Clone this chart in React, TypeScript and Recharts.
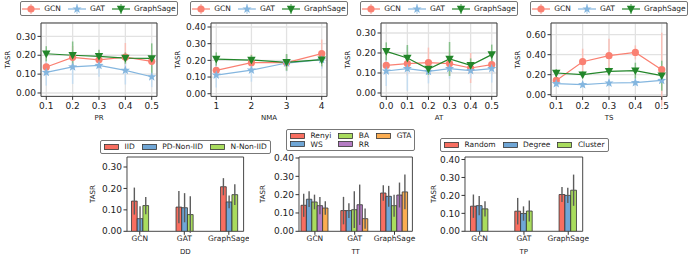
import React from 'react';
import { LineChart, Line, BarChart, Bar, XAxis, YAxis, CartesianGrid, ErrorBar } from 'recharts';

const FONT = '"DejaVu Sans", sans-serif';
const INK = '#222';
const SPINE = '#333';

// ---- line panels (top row) ----
const prX = [0.1, 0.2, 0.3, 0.4, 0.5];
const prGcn = [0.138, 0.189, 0.176, 0.19, 0.168];
const prGcnErr = [0.05, 0.06, 0.05, 0.075, 0.06];
const prGat = [0.109, 0.138, 0.146, 0.12, 0.086];
const prGatErr = [0.07, 0.09, 0.06, 0.075, 0.055];
const prSage = [0.208, 0.2, 0.194, 0.185, 0.183];
const prSageErr = [0.04, 0.073, 0.035, 0.03, 0.08];

const nmaX = [1, 2, 3, 4];
const nmaGcn = [0.14, 0.186, 0.186, 0.24];
const nmaGcnErr = [0.04, 0.05, 0.05, 0.085];
const nmaGat = [0.112, 0.142, 0.184, 0.204];
const nmaGatErr = [0.075, 0.07, 0.05, 0.055];
const nmaSage = [0.208, 0.202, 0.188, 0.204];
const nmaSageErr = [0.04, 0.03, 0.05, 0.04];

const atX = [0, 0.1, 0.2, 0.3, 0.4, 0.5];
const atGcn = [0.138, 0.147, 0.152, 0.147, 0.125, 0.142];
const atGcnErr = [0.05, 0.06, 0.075, 0.06, 0.075, 0.05];
const atGat = [0.11, 0.122, 0.108, 0.122, 0.112, 0.122];
const atGatErr = [0.075, 0.11, 0.06, 0.05, 0.04, 0.07];
const atSage = [0.208, 0.175, 0.12, 0.17, 0.138, 0.192];
const atSageErr = [0.045, 0.065, 0.03, 0.085, 0.035, 0.05];

const tsX = [0.1, 0.2, 0.3, 0.4, 0.5];
const tsGcn = [0.143, 0.33, 0.39, 0.423, 0.25];
const tsGcnErr = [0.04, 0.13, 0.17, 0.07, 0.37];
const tsGat = [0.11, 0.1, 0.117, 0.12, 0.143];
const tsGatErr = [0.03, 0.03, 0.035, 0.035, 0.04];
const tsSage = [0.217, 0.2, 0.233, 0.24, 0.19];
const tsSageErr = [0.04, 0.035, 0.04, 0.08, 0.15];

// ---- bar panels (bottom row) ----
const models = ['GCN', 'GAT', 'GraphSage'];

const ddIid = [0.141, 0.113, 0.208];
const ddIidErr = [0.063, 0.075, 0.04];
const ddPd = [0.059, 0.11, 0.137];
const ddPdErr = [0.058, 0.068, 0.03];
const ddNn = [0.12, 0.078, 0.171];
const ddNnErr = [0.04, 0.085, 0.048];

const ttRenyi = [0.142, 0.113, 0.209];
const ttRenyiErr = [0.063, 0.075, 0.042];
const ttWs = [0.175, 0.113, 0.191];
const ttWsErr = [0.043, 0.04, 0.057];
const ttBa = [0.16, 0.118, 0.14];
const ttBaErr = [0.04, 0.1, 0.06];
const ttRr = [0.14, 0.145, 0.198];
const ttRrErr = [0.047, 0.11, 0.068];
const ttGta = [0.127, 0.069, 0.215];
const ttGtaErr = [0.037, 0.055, 0.095];

const tpRandom = [0.14, 0.112, 0.205];
const tpRandomErr = [0.065, 0.074, 0.042];
const tpDegree = [0.143, 0.099, 0.2];
const tpDegreeErr = [0.054, 0.04, 0.042];
const tpCluster = [0.125, 0.113, 0.229];
const tpClusterErr = [0.042, 0.058, 0.087];

const RED = '#f86e60';
const BLUE = '#6fa6d6';
const GREEN = '#a9dc5e';
const PURPLE = '#b57cc4';
const ORANGE = '#fbad52';

const lineSeries = [
  { key: 'gcn', name: 'GCN', color: '#fa8072', err: '#f9c0b8', marker: 'circle' },
  { key: 'gat', name: 'GAT', color: '#84b6df', err: '#c4dcf0', marker: 'star' },
  { key: 'sage', name: 'GraphSage', color: '#23862a', err: '#86c08a', marker: 'tri' },
];

function lineRows(x: number[], gcn: number[], gcnE: number[], gat: number[], gatE: number[], sage: number[], sageE: number[]) {
  return x.map((v, i) => ({
    x: v,
    gcn: gcn[i], gcnErr: gcnE[i],
    gat: gat[i], gatErr: gatE[i],
    sage: sage[i], sageErr: sageE[i],
  }));
}

const YW = 40;
const MT = 6;
const MR = 6;
const XH = 30;

function Marker({ kind, cx, cy, color }: any) {
  if (cx == null || cy == null) return null;
  if (kind === 'circle') return <circle cx={cx} cy={cy} r={3.6} fill={color} />;
  if (kind === 'tri') {
    return <polygon points={`${cx - 4.2},${cy - 3.3} ${cx + 4.2},${cy - 3.3} ${cx},${cy + 4.4}`} fill={color} />;
  }
  const pts: string[] = [];
  for (let i = 0; i < 10; i++) {
    const r = i % 2 === 0 ? 4.8 : 2;
    const a = -Math.PI / 2 + (i * Math.PI) / 5;
    pts.push(`${cx + r * Math.cos(a)},${cy + r * Math.sin(a)}`);
  }
  return <polygon points={pts.join(' ')} fill={color} />;
}

const tickStyle = { fontSize: 9, fill: INK, fontFamily: FONT };

function LinePanel({ rect, rows, xDomain, xTicks, xDigits, yDomain, yTicks, xLabel }: any) {
  const pw = rect.x1 - rect.x0;
  const ph = rect.y1 - rect.y0;
  const w = pw + YW + MR;
  const h = ph + MT + XH;
  const labelOffset = rect.y1 + XH - 120.8;
  return (
    <div style={{ position: 'absolute', left: rect.x0 - YW, top: rect.y0 - MT }}>
      <LineChart width={w} height={h} data={rows} margin={{ top: MT, right: MR, left: 0, bottom: 0 }}>
        <CartesianGrid stroke="#e2e2e2" strokeWidth={1.3} />
        <CartesianGrid
          stroke={SPINE}
          strokeWidth={0.9}
          horizontalPoints={[MT, MT + ph]}
          verticalPoints={[YW, YW + pw]}
        />
        <XAxis
          type="number"
          dataKey="x"
          domain={xDomain}
          ticks={xTicks}
          allowDataOverflow
          interval={0}
          height={XH}
          axisLine={false}
          tickSize={3.5}
          tickMargin={2.5}
          tickLine={{ stroke: SPINE }}
          tick={tickStyle}
          tickFormatter={(v: number) => v.toFixed(xDigits)}
          label={{ value: xLabel, position: 'insideBottom', offset: labelOffset, style: { fontSize: 7, fill: INK, fontFamily: FONT } }}
        />
        <YAxis
          type="number"
          domain={yDomain}
          ticks={yTicks}
          allowDataOverflow
          interval={0}
          width={YW}
          axisLine={false}
          tickSize={3.5}
          tickMargin={1.5}
          tickLine={{ stroke: SPINE }}
          tick={tickStyle}
          tickFormatter={(v: number) => v.toFixed(2)}
          label={{ value: 'TASR', angle: -90, position: 'insideLeft', offset: 6.5, style: { textAnchor: 'middle', fontSize: 7, fill: INK, fontFamily: FONT } }}
        />
        {lineSeries.map((s) => (
          <Line
            key={s.key}
            dataKey={s.key}
            stroke={s.color}
            strokeWidth={1.2}
            isAnimationActive={false}
            activeDot={false}
            dot={(p: any) => <Marker key={`${s.key}-${p.index}`} kind={s.marker} cx={p.cx} cy={p.cy} color={s.color} />}
          >
            <ErrorBar dataKey={`${s.key}Err`} width={0} stroke={s.err} strokeWidth={1.5} direction="y" />
          </Line>
        ))}
      </LineChart>
    </div>
  );
}

function LineLegend({ cx }: { cx: number }) {
  return (
    <div
      style={{
        position: 'absolute', left: cx - 79, top: 1, width: 158, height: 15, boxSizing: 'border-box',
        border: '1px solid #777', borderRadius: 2, display: 'flex', alignItems: 'center', justifyContent: 'center',
        fontFamily: FONT, fontSize: 7.5, color: INK, background: '#fff', lineHeight: 1,
      }}
    >
      {lineSeries.map((s, i) => (
        <div key={s.key} style={{ display: 'flex', alignItems: 'center', marginLeft: i ? 7 : 0 }}>
          <svg width={18} height={12}>
            <line x1={9} y1={1} x2={9} y2={11} stroke={s.err} strokeWidth={1.5} />
            <line x1={0} y1={6} x2={18} y2={6} stroke={s.color} strokeWidth={1.2} />
            <Marker kind={s.marker} cx={9} cy={6} color={s.color} />
          </svg>
          <span style={{ marginLeft: 4 }}>{s.name}</span>
        </div>
      ))}
    </div>
  );
}

function barRows(series: any[]) {
  return models.map((m, i) => {
    const row: any = { model: m };
    series.forEach((s) => {
      row[s.key] = s.values[i];
      row[`${s.key}Err`] = s.errs[i];
    });
    return row;
  });
}

function BarPanel({ rect, series, yDomain, yTicks, xLabel, pad, barSize, yLabelX }: any) {
  const pw = rect.x1 - rect.x0;
  const ph = rect.y1 - rect.y0;
  const w = pw + YW + MR;
  const h = ph + MT + XH;
  const left = rect.x0 - YW;
  const labelOffset = rect.y1 + XH - 253.5;
  return (
    <div style={{ position: 'absolute', left, top: rect.y0 - MT }}>
      <BarChart width={w} height={h} data={barRows(series)} barGap={0} margin={{ top: MT, right: MR, left: 0, bottom: 0 }}>
        <CartesianGrid
          stroke={SPINE}
          strokeWidth={0.9}
          horizontalPoints={[MT, MT + ph]}
          verticalPoints={[YW, YW + pw]}
        />
        <XAxis
          dataKey="model"
          padding={pad}
          height={XH}
          interval={0}
          axisLine={false}
          tickSize={3.5}
          tickMargin={0.5}
          tickLine={{ stroke: SPINE }}
          tick={{ fontSize: 7.5, fill: INK, fontFamily: FONT }}
          label={{ value: xLabel, position: 'insideBottom', offset: labelOffset, style: { fontSize: 7, fill: INK, fontFamily: FONT } }}
        />
        <YAxis
          type="number"
          domain={yDomain}
          ticks={yTicks}
          allowDataOverflow
          interval={0}
          width={YW}
          axisLine={false}
          tickSize={3.5}
          tickMargin={1.5}
          tickLine={{ stroke: SPINE }}
          tick={tickStyle}
          tickFormatter={(v: number) => v.toFixed(2)}
          label={{ value: 'TASR', angle: -90, position: 'insideLeft', offset: yLabelX - left, style: { textAnchor: 'middle', fontSize: 7, fill: INK, fontFamily: FONT } }}
        />
        {series.map((s: any) => (
          <Bar key={s.key} dataKey={s.key} fill={s.color} stroke="#333" strokeWidth={0.8} barSize={barSize} isAnimationActive={false}>
            <ErrorBar dataKey={`${s.key}Err`} width={0} stroke="#5c5c5c" strokeWidth={1.4} direction="y" />
          </Bar>
        ))}
      </BarChart>
    </div>
  );
}

function BarLegend({ left, top, series, rows }: any) {
  return (
    <div
      style={{
        position: 'absolute', left, top, boxSizing: 'border-box', border: '1px solid #777', borderRadius: 2,
        padding: '2px 3px', display: 'grid', gridTemplateRows: `repeat(${rows}, auto)`, gridAutoFlow: 'column',
        columnGap: 7, rowGap: 1, fontFamily: FONT, fontSize: 7.5, color: INK, background: '#fff', lineHeight: 1,
      }}
    >
      {series.map((s: any) => (
        <div key={s.key} style={{ display: 'flex', alignItems: 'center' }}>
          <svg width={15} height={6}>
            <rect x={0.5} y={0.5} width={14} height={5} fill={s.color} stroke="#333" strokeWidth={0.8} />
          </svg>
          <span style={{ marginLeft: 5.5 }}>{s.name}</span>
        </div>
      ))}
    </div>
  );
}

const ddSeries = [
  { key: 'iid', name: 'IID', color: RED, values: ddIid, errs: ddIidErr },
  { key: 'pd', name: 'PD-Non-IID', color: BLUE, values: ddPd, errs: ddPdErr },
  { key: 'nn', name: 'N-Non-IID', color: GREEN, values: ddNn, errs: ddNnErr },
];
const ttSeries = [
  { key: 'renyi', name: 'Renyi', color: RED, values: ttRenyi, errs: ttRenyiErr },
  { key: 'ws', name: 'WS', color: BLUE, values: ttWs, errs: ttWsErr },
  { key: 'ba', name: 'BA', color: GREEN, values: ttBa, errs: ttBaErr },
  { key: 'rr', name: 'RR', color: PURPLE, values: ttRr, errs: ttRrErr },
  { key: 'gta', name: 'GTA', color: ORANGE, values: ttGta, errs: ttGtaErr },
];
const tpSeries = [
  { key: 'random', name: 'Random', color: RED, values: tpRandom, errs: tpRandomErr },
  { key: 'degree', name: 'Degree', color: BLUE, values: tpDegree, errs: tpDegreeErr },
  { key: 'cluster', name: 'Cluster', color: GREEN, values: tpCluster, errs: tpClusterErr },
];

export default function App() {
  const top = { y0: 23.3, y1: 96.7 };
  const bot = { y0: 156.7, y1: 231 };
  return (
    <div style={{ position: 'absolute', left: 0, top: 0, width: 692, height: 260, background: '#fff', overflow: 'hidden', fontFamily: FONT }}>
      <LinePanel
        rect={{ x0: 41, x1: 157, ...top }}
        rows={lineRows(prX, prGcn, prGcnErr, prGat, prGatErr, prSage, prSageErr)}
        xDomain={[0.08, 0.52]} xTicks={prX} xDigits={1}
        yDomain={[-0.018, 0.371]} yTicks={[0, 0.1, 0.2, 0.3]} xLabel="PR"
      />
      <LinePanel
        rect={{ x0: 211, x1: 327, ...top }}
        rows={lineRows(nmaX, nmaGcn, nmaGcnErr, nmaGat, nmaGatErr, nmaSage, nmaSageErr)}
        xDomain={[0.85, 4.15]} xTicks={nmaX} xDigits={0}
        yDomain={[-0.016, 0.424]} yTicks={[0, 0.1, 0.2, 0.3, 0.4]} xLabel="NMA"
      />
      <LinePanel
        rect={{ x0: 381, x1: 497, ...top }}
        rows={lineRows(atX, atGcn, atGcnErr, atGat, atGatErr, atSage, atSageErr)}
        xDomain={[-0.025, 0.525]} xTicks={atX} xDigits={1}
        yDomain={[-0.017, 0.35]} yTicks={[0, 0.1, 0.2, 0.3]} xLabel="AT"
      />
      <LinePanel
        rect={{ x0: 551, x1: 667, ...top }}
        rows={lineRows(tsX, tsGcn, tsGcnErr, tsGat, tsGatErr, tsSage, tsSageErr)}
        xDomain={[0.08, 0.52]} xTicks={tsX} xDigits={1}
        yDomain={[-0.017, 0.717]} yTicks={[0, 0.2, 0.4, 0.6]} xLabel="TS"
      />
      <LineLegend cx={99} />
      <LineLegend cx={269} />
      <LineLegend cx={439} />
      <LineLegend cx={609} />

      <BarPanel
        rect={{ x0: 126.7, x1: 243.3, ...bot }} series={ddSeries}
        yDomain={[0, 0.3467]} yTicks={[0, 0.1, 0.2, 0.3]} xLabel="DD"
        pad={{ left: -9.5, right: -7.5 }} barSize={5.7} yLabelX={92.7}
      />
      <BarPanel
        rect={{ x0: 299.3, x1: 412.7, ...bot }} series={ttSeries}
        yDomain={[0, 0.4055]} yTicks={[0, 0.1, 0.2, 0.3, 0.4]} xLabel="TT"
        pad={{ left: -4, right: -2 }} barSize={5.4} yLabelX={263}
      />
      <BarPanel
        rect={{ x0: 465, x1: 582.7, ...bot }} series={tpSeries}
        yDomain={[0, 0.414]} yTicks={[0, 0.1, 0.2, 0.3, 0.4]} xLabel="TP"
        pad={{ left: -7.5, right: -7.7 }} barSize={5.8} yLabelX={433.3}
      />
      <BarLegend left={100} top={140} series={ddSeries} rows={1} />
      <BarLegend left={286} top={129} series={ttSeries} rows={2} />
      <BarLegend left={440} top={138} series={tpSeries} rows={1} />
    </div>
  );
}
